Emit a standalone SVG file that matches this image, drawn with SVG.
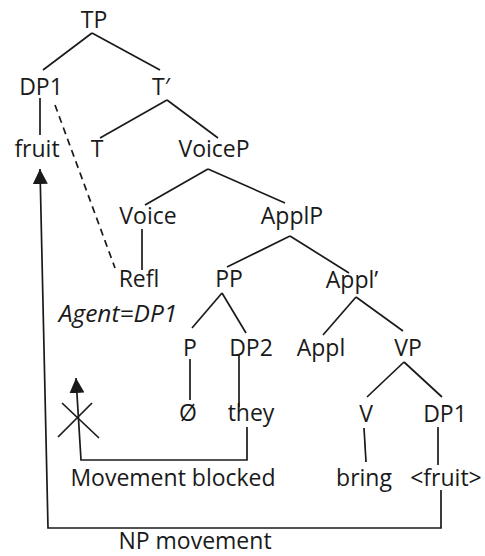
<svg xmlns="http://www.w3.org/2000/svg" width="485" height="556" viewBox="0 0 485 556">
<defs>
<style>
text{font-family:"Open Sans","Liberation Sans",sans-serif;font-size:23px;fill:#1a1a1a;text-anchor:middle}
.it{font-style:italic;font-size:24.5px}
.ln{stroke:#1a1a1a;stroke-width:1.7;fill:none}
.dash{stroke-dasharray:7 5}
</style>
<marker id="ah" viewBox="0 0 10 10" refX="10" refY="5" markerWidth="15" markerHeight="15" markerUnits="userSpaceOnUse" orient="auto">
<path d="M0,0 L10,5 L0,10 Z" fill="#1a1a1a"/>
</marker>
</defs>
<rect width="485" height="556" fill="#fff"/>
<g id="connectors">
<line class="ln" x1="92" y1="33" x2="43" y2="70"/>
<line class="ln" x1="92" y1="33" x2="160" y2="70"/>
<line class="ln" x1="40" y1="98" x2="40" y2="135"/>
<line class="ln dash" x1="55" y1="105" x2="115" y2="268"/>
<line class="ln" x1="167" y1="100" x2="100" y2="138"/>
<line class="ln" x1="167" y1="100" x2="218" y2="138"/>
<line class="ln" x1="208" y1="169" x2="145" y2="205"/>
<line class="ln" x1="208" y1="169" x2="285" y2="203"/>
<line class="ln" x1="142" y1="229" x2="142" y2="270"/>
<line class="ln" x1="290" y1="236" x2="227" y2="267"/>
<line class="ln" x1="290" y1="236" x2="349" y2="273"/>
<line class="ln" x1="222" y1="293" x2="192" y2="328"/>
<line class="ln" x1="222" y1="293" x2="246" y2="333"/>
<line class="ln" x1="356" y1="297" x2="323" y2="335"/>
<line class="ln" x1="356" y1="297" x2="403" y2="331"/>
<line class="ln" x1="404" y1="362" x2="367" y2="397"/>
<line class="ln" x1="404" y1="362" x2="442" y2="397"/>
<line class="ln" x1="190" y1="359" x2="190" y2="400"/>
<line class="ln" x1="239" y1="355" x2="239" y2="407"/>
<line class="ln" x1="364" y1="428" x2="366" y2="462"/>
<line class="ln" x1="438" y1="427" x2="438" y2="465"/>
<polyline class="ln" points="247,427 247,460 81,460 76,378" marker-end="url(#ah)"/>
<line class="ln" x1="62" y1="403" x2="99" y2="438"/>
<line class="ln" x1="92" y1="403" x2="58" y2="437"/>
<polyline class="ln" points="441,490 441,528 48,528 40,169" marker-end="url(#ah)"/>
</g>
<g id="n-TP"><text x="94" y="28">TP</text></g>
<g id="n-DP1-top"><text x="41" y="95">DP1</text></g>
<g id="n-Tbar"><text x="161" y="95">T′</text></g>
<g id="n-fruit"><text x="37" y="157">fruit</text></g>
<g id="n-T"><text x="97" y="157">T</text></g>
<g id="n-VoiceP"><text x="214" y="157">VoiceP</text></g>
<g id="n-Voice"><text x="148" y="224">Voice</text></g>
<g id="n-ApplP"><text x="292" y="224">ApplP</text></g>
<g id="n-Refl"><text x="139" y="287">Refl</text></g>
<g id="n-PP"><text x="229" y="287">PP</text></g>
<g id="n-Applbar"><text x="352" y="288">Appl’</text></g>
<g id="n-agent"><text class="it" x="118" y="322">Agent=DP1</text></g>
<g id="n-P"><text x="190" y="356">P</text></g>
<g id="n-DP2"><text x="251" y="356">DP2</text></g>
<g id="n-Appl"><text x="321" y="356">Appl</text></g>
<g id="n-VP"><text x="408" y="356">VP</text></g>
<g id="n-null"><text x="188" y="421">Ø</text></g>
<g id="n-they"><text x="251" y="421">they</text></g>
<g id="n-V"><text x="366" y="422">V</text></g>
<g id="n-DP1-low"><text x="445" y="422">DP1</text></g>
<g id="n-bring"><text x="364" y="486">bring</text></g>
<g id="n-fruit-trace"><text x="446" y="486">&lt;fruit&gt;</text></g>
<g id="n-blocked"><text x="173" y="486">Movement blocked</text></g>
<g id="n-npmove"><text x="195" y="549">NP movement</text></g>
</svg>
